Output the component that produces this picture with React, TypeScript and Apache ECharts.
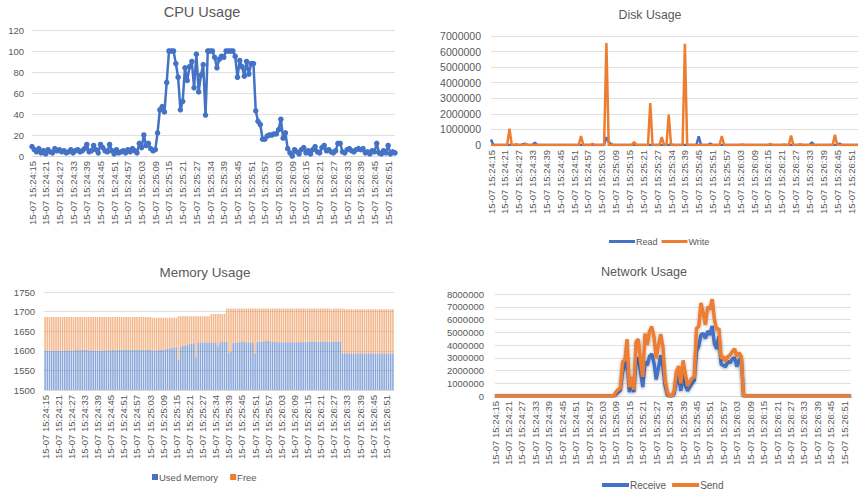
import React, { useEffect, useRef } from "react";
import * as echarts from "echarts";

const times: string[] = [
  "15:24:15", "15:24:16", "15:24:17", "15:24:18", "15:24:19", "15:24:20", "15:24:21", "15:24:22", "15:24:23", "15:24:24",
  "15:24:25", "15:24:26", "15:24:27", "15:24:28", "15:24:29", "15:24:30", "15:24:31", "15:24:32", "15:24:33", "15:24:34",
  "15:24:35", "15:24:36", "15:24:37", "15:24:38", "15:24:39", "15:24:40", "15:24:41", "15:24:42", "15:24:43", "15:24:44",
  "15:24:45", "15:24:46", "15:24:47", "15:24:48", "15:24:49", "15:24:50", "15:24:51", "15:24:52", "15:24:53", "15:24:54",
  "15:24:55", "15:24:56", "15:24:57", "15:24:58", "15:24:59", "15:25:00", "15:25:01", "15:25:02", "15:25:03", "15:25:04",
  "15:25:05", "15:25:06", "15:25:07", "15:25:08", "15:25:09", "15:25:10", "15:25:11", "15:25:12", "15:25:13", "15:25:14",
  "15:25:15", "15:25:16", "15:25:17", "15:25:18", "15:25:19", "15:25:20", "15:25:21", "15:25:22", "15:25:23", "15:25:24",
  "15:25:25", "15:25:26", "15:25:27", "15:25:28", "15:25:29", "15:25:30", "15:25:32", "15:25:33", "15:25:34", "15:25:35",
  "15:25:36", "15:25:36", "15:25:37", "15:25:38", "15:25:39", "15:25:40", "15:25:41", "15:25:42", "15:25:43", "15:25:44",
  "15:25:45", "15:25:46", "15:25:47", "15:25:48", "15:25:49", "15:25:50", "15:25:51", "15:25:52", "15:25:53", "15:25:54",
  "15:25:55", "15:25:56", "15:25:57", "15:25:58", "15:25:59", "15:26:00", "15:26:01", "15:26:02", "15:26:03", "15:26:04",
  "15:26:05", "15:26:06", "15:26:07", "15:26:08", "15:26:09", "15:26:10", "15:26:11", "15:26:12", "15:26:13", "15:26:14",
  "15:26:15", "15:26:16", "15:26:17", "15:26:18", "15:26:19", "15:26:20", "15:26:21", "15:26:22", "15:26:23", "15:26:24",
  "15:26:25", "15:26:26", "15:26:27", "15:26:28", "15:26:29", "15:26:30", "15:26:31", "15:26:32", "15:26:33", "15:26:34",
  "15:26:35", "15:26:36", "15:26:37", "15:26:38", "15:26:39", "15:26:40", "15:26:41", "15:26:42", "15:26:43", "15:26:44",
  "15:26:45", "15:26:46", "15:26:47", "15:26:48", "15:26:49", "15:26:50", "15:26:51", "15:26:52", "15:26:53", "15:26:54",
];
const categories = times.map((t) => `15-07 ${t}`);

const cpuUsage: number[] = [
  9, 6, 4, 7, 3, 5, 2, 6, 4, 3,
  7, 5, 6, 4, 5, 3, 4, 6, 3, 5,
  6, 4, 5, 7, 11, 4, 5, 10, 6, 3,
  11, 8, 5, 4, 11, 5, 2, 6, 3, 4,
  5, 3, 6, 4, 7, 5, 3, 12, 8, 20,
  10, 12, 7, 5, 6, 22, 44, 47, 42, 70,
  100, 100, 100, 88, 75, 44, 52, 84, 72, 85,
  90, 65, 97, 61, 77, 87, 39, 100, 100, 100,
  94, 84, 92, 95, 94, 100, 100, 100, 100, 95,
  75, 91, 85, 76, 90, 78, 88, 88, 43, 33,
  30, 16, 16, 19, 20, 20, 21, 21, 25, 35,
  17, 22, 7, 3, 0, 6, 4, 2, 6, 8,
  3, 5, 2, 6, 9, 4, 3, 8, 10, 5,
  6, 4, 3, 5, 12, 12, 4, 3, 6, 7,
  5, 4, 6, 7, 6, 7, 3, 4, 2, 5,
  4, 12, 3, 2, 5, 3, 10, 2, 4, 3,
];

const diskRead: number[] = [
  350000, 0, 0, 0, 0, 0, 0, 0, 0, 0,
  0, 0, 0, 0, 60000, 80000, 0, 0, 0, 150000,
  0, 0, 0, 0, 0, 0, 0, 0, 0, 0,
  0, 0, 0, 0, 0, 0, 0, 0, 0, 0,
  0, 0, 0, 0, 0, 0, 0, 0, 0, 0,
  500000, 200000, 50000, 0, 0, 0, 0, 0, 0, 0,
  0, 0, 0, 0, 0, 0, 0, 0, 0, 0,
  0, 0, 0, 0, 0, 0, 0, 0, 40000, 0,
  0, 0, 0, 0, 0, 0, 0, 0, 0, 0,
  550000, 0, 0, 0, 0, 100000, 0, 0, 0, 0,
  0, 0, 0, 0, 0, 0, 0, 0, 0, 0,
  0, 0, 0, 0, 0, 0, 0, 0, 0, 0,
  0, 0, 0, 0, 0, 0, 0, 0, 0, 0,
  0, 0, 0, 0, 0, 0, 0, 0, 0, 170000,
  0, 0, 0, 0, 0, 0, 0, 0, 0, 0,
  0, 100000, 0, 0, 0, 0, 0, 0, 0, 0,
];

const diskWrite: number[] = [
  0, 0, 0, 0, 0, 0, 0, 0, 1050000, 0,
  0, 50000, 0, 0, 0, 60000, 0, 0, 0, 0,
  0, 0, 0, 0, 0, 0, 0, 0, 0, 0,
  0, 0, 0, 0, 0, 0, 0, 0, 0, 580000,
  0, 0, 0, 0, 80000, 0, 0, 0, 0, 0,
  6550000, 0, 0, 0, 0, 0, 0, 0, 0, 0,
  0, 0, 200000, 0, 0, 0, 0, 0, 0, 2700000,
  0, 0, 0, 0, 500000, 0, 0, 1950000, 0, 0,
  0, 0, 0, 0, 6500000, 0, 0, 0, 0, 0,
  0, 0, 0, 0, 0, 0, 0, 0, 0, 0,
  580000, 0, 0, 0, 0, 0, 0, 0, 0, 30000,
  0, 0, 0, 0, 0, 0, 0, 0, 0, 0,
  0, 80000, 0, 0, 0, 0, 0, 40000, 0, 0,
  600000, 0, 0, 0, 50000, 0, 0, 0, 0, 0,
  0, 0, 0, 0, 0, 0, 0, 0, 0, 650000,
  0, 0, 0, 0, 0, 0, 0, 0, 0, 0,
];

const memUsed: number[] = [
  1601, 1600, 1600, 1601, 1600, 1600, 1600, 1601, 1600, 1600,
  1601, 1601, 1600, 1601, 1602, 1602, 1601, 1602, 1602, 1602,
  1601, 1601, 1600, 1600, 1600, 1600, 1600, 1601, 1601, 1602,
  1601, 1602, 1601, 1602, 1602, 1602, 1602, 1602, 1602, 1602,
  1602, 1602, 1602, 1602, 1602, 1602, 1602, 1602, 1602, 1601,
  1601, 1601, 1602, 1602, 1602, 1604, 1605, 1606, 1607, 1608,
  1609, 1577, 1610, 1612, 1613, 1615, 1617, 1618, 1619, 1583,
  1620, 1621, 1622, 1621, 1620, 1621, 1622, 1621, 1620, 1613,
  1621, 1623, 1624, 1624, 1595, 1597, 1619, 1620, 1621, 1622,
  1624, 1623, 1622, 1622, 1621, 1621, 1592, 1622, 1623, 1623,
  1624, 1625, 1625, 1624, 1623, 1623, 1622, 1622, 1622, 1622,
  1622, 1622, 1622, 1622, 1622, 1622, 1622, 1622, 1622, 1622,
  1623, 1623, 1623, 1623, 1623, 1623, 1623, 1623, 1623, 1623,
  1623, 1623, 1623, 1623, 1623, 1623, 1593, 1593, 1593, 1593,
  1593, 1593, 1593, 1593, 1593, 1593, 1593, 1593, 1593, 1593,
  1593, 1593, 1593, 1593, 1593, 1593, 1593, 1593, 1593, 1593,
];

const memFree: number[] = [
  85, 86, 86, 85, 86, 86, 86, 85, 86, 86,
  85, 85, 86, 85, 84, 84, 85, 84, 84, 84,
  85, 85, 86, 86, 86, 86, 86, 85, 85, 84,
  85, 84, 85, 84, 84, 84, 84, 84, 84, 84,
  84, 84, 84, 84, 84, 84, 84, 84, 84, 83,
  83, 83, 82, 82, 82, 80, 79, 78, 77, 76,
  75, 111, 78, 76, 75, 73, 71, 70, 69, 105,
  68, 67, 66, 67, 68, 67, 72, 73, 74, 81,
  73, 71, 70, 84, 113, 111, 89, 88, 87, 86,
  84, 85, 86, 86, 87, 87, 116, 86, 85, 85,
  84, 83, 83, 84, 85, 85, 86, 86, 86, 86,
  86, 86, 86, 86, 86, 86, 86, 86, 86, 86,
  85, 85, 85, 85, 85, 85, 85, 85, 85, 85,
  85, 83, 85, 85, 85, 85, 115, 113, 113, 113,
  113, 113, 113, 113, 113, 113, 113, 113, 113, 113,
  113, 113, 113, 113, 113, 113, 113, 113, 113, 113,
];

const netReceive: number[] = [
  0, 0, 0, 0, 0, 0, 0, 0, 0, 0,
  0, 0, 0, 0, 0, 0, 0, 0, 0, 0,
  0, 0, 0, 0, 0, 0, 0, 0, 0, 0,
  0, 0, 0, 0, 0, 0, 0, 0, 0, 0,
  0, 0, 0, 0, 0, 0, 0, 0, 0, 0,
  0, 0, 0, 0, 150000, 300000, 450000, 1900000, 2300000, 2900000,
  300000, 1100000, 300000, 2800000, 3000000, 1900000, 700000, 2700000, 2400000, 3100000,
  3300000, 2600000, 1300000, 2200000, 3200000, 2300000, 800000, 100000, 0, 0,
  200000, 1200000, 1600000, 400000, 1800000, 800000, 400000, 700000, 1000000, 1200000,
  3500000, 3900000, 4800000, 4900000, 4500000, 5100000, 4800000, 5500000, 4100000, 3700000,
  4700000, 2500000, 2400000, 2300000, 2700000, 2600000, 2900000, 3000000, 2300000, 2800000,
  3000000, 0, 0, 0, 0, 0, 0, 0, 0, 0,
  0, 0, 0, 0, 0, 0, 0, 0, 0, 0,
  0, 0, 0, 0, 0, 0, 0, 0, 0, 0,
  0, 0, 0, 0, 0, 0, 0, 0, 0, 0,
  0, 0, 0, 0, 0, 0, 0, 0, 0, 0,
];

const netSend: number[] = [
  0, 0, 0, 0, 0, 0, 0, 0, 0, 0,
  0, 0, 0, 0, 0, 0, 0, 0, 0, 0,
  0, 0, 0, 0, 0, 0, 0, 0, 0, 0,
  0, 0, 0, 0, 0, 0, 0, 0, 0, 0,
  0, 0, 0, 0, 0, 0, 0, 0, 0, 0,
  0, 0, 0, 0, 300000, 500000, 600000, 2700000, 2800000, 4450000,
  700000, 1500000, 500000, 4250000, 4450000, 2800000, 1500000, 4900000, 4000000, 5050000,
  5450000, 4650000, 2950000, 4000000, 4850000, 3850000, 1250000, 300000, 0, 0,
  400000, 1900000, 2350000, 1000000, 2800000, 1750000, 800000, 1100000, 1400000, 1500000,
  5300000, 5450000, 7300000, 6500000, 5600000, 7000000, 6800000, 7600000, 6000000, 5200000,
  5300000, 2950000, 3100000, 2700000, 3100000, 3200000, 3500000, 3700000, 3100000, 3400000,
  3100000, 0, 0, 0, 0, 0, 0, 0, 0, 0,
  0, 0, 0, 0, 0, 0, 0, 0, 0, 0,
  0, 0, 0, 0, 0, 0, 0, 0, 0, 0,
  0, 0, 0, 0, 0, 0, 0, 0, 0, 0,
  0, 0, 0, 0, 0, 0, 0, 0, 0, 0,
];

const BLUE = "#4472C4";
const ORANGE = "#ED7D31";
const TEXT = "#595959";
const GRIDLINE = "#e0e0e0";
const FONT = "'Liberation Sans', Arial, sans-serif";

function xAxis(gridIndex: number, boundaryGap: boolean) {
  return {
    type: "category",
    gridIndex,
    data: categories,
    boundaryGap,
    axisTick: { show: false },
    axisLine: { lineStyle: { color: "#d9d9d9" } },
    axisLabel: {
      interval: 5,
      rotate: 90,
      fontSize: 9.5,
      color: TEXT,
      margin: 5,
      fontFamily: FONT,
    },
  };
}

function yAxis(gridIndex: number, min: number, max: number, interval: number, fontSize: number, margin: number) {
  return {
    type: "value",
    gridIndex,
    min,
    max,
    interval,
    axisLine: { show: false },
    axisTick: { show: false },
    splitLine: { lineStyle: { color: GRIDLINE, width: 1 } },
    axisLabel: {
      fontSize,
      color: TEXT,
      margin,
      fontFamily: FONT,
      formatter: (v: number) => String(v),
    },
  };
}

function title(text: string, x: number, y: number, fontSize: number) {
  return {
    type: "text",
    x,
    y,
    style: {
      text,
      fontSize,
      fontFamily: FONT,
      fill: TEXT,
      align: "center",
      verticalAlign: "middle",
    },
  };
}

export default function App() {
  const ref = useRef<HTMLDivElement>(null);
  useEffect(() => {
    if (!ref.current) return;
    const chart = echarts.init(ref.current, undefined, { renderer: "svg" });
    chart.setOption({
      animation: false,
      backgroundColor: "#ffffff",
      textStyle: { fontFamily: FONT },
      graphic: [
        title("CPU Usage", 202, 12, 14.5),
        title("Disk Usage", 650, 15, 12.3),
        title("Memory Usage", 205, 272, 13.4),
        title("Network Usage", 644, 272, 12.6),
      ],
      grid: [
        { left: 32, top: 30, width: 363, height: 126 },
        { left: 491, top: 36, width: 369, height: 109 },
        { left: 44, top: 292, width: 350, height: 98 },
        { left: 495, top: 294, width: 356, height: 102 },
      ],
      xAxis: [xAxis(0, false), xAxis(1, false), xAxis(2, true), xAxis(3, false)],
      yAxis: [
        yAxis(0, 0, 120, 20, 9.5, 8),
        yAxis(1, 0, 7000000, 1000000, 10.5, 10),
        yAxis(2, 1500, 1750, 50, 9.5, 9),
        yAxis(3, 0, 8000000, 1000000, 9.5, 11),
      ],
      legend: [
        {
          data: [
            { name: "Read", icon: "rect" },
            { name: "Write", icon: "rect" },
          ],
          left: 604,
          top: 232,
          itemWidth: 26,
          itemHeight: 3,
          itemGap: 4,
          textStyle: { fontSize: 9, color: TEXT, padding: [0, 0, 0, -4] },
        },
        {
          data: [
            { name: "Used Memory", icon: "rect", itemStyle: { color: BLUE } },
            { name: "Free", icon: "rect", itemStyle: { color: ORANGE } },
          ],
          left: 147,
          top: 467,
          itemWidth: 6,
          itemHeight: 6,
          itemGap: 12,
          textStyle: { fontSize: 9.5, color: TEXT, padding: [0, 0, 0, -4] },
        },
        {
          data: [
            { name: "Receive", icon: "rect" },
            { name: "Send", icon: "rect" },
          ],
          left: 597,
          top: 475,
          itemWidth: 27,
          itemHeight: 4,
          itemGap: 6,
          textStyle: { fontSize: 10, color: TEXT, padding: [0, 0, 0, -4] },
        },
      ],
      series: [
        {
          name: "CPU",
          type: "line",
          xAxisIndex: 0,
          yAxisIndex: 0,
          data: cpuUsage,
          symbol: "circle",
          symbolSize: 5.5,
          showAllSymbol: true,
          lineStyle: { width: 2.5, color: BLUE },
          itemStyle: { color: BLUE },
        },
        {
          name: "Read",
          type: "line",
          xAxisIndex: 1,
          yAxisIndex: 1,
          data: diskRead,
          showSymbol: false,
          lineStyle: { width: 2.5, color: BLUE },
          itemStyle: { color: BLUE },
        },
        {
          name: "Write",
          type: "line",
          xAxisIndex: 1,
          yAxisIndex: 1,
          data: diskWrite,
          showSymbol: false,
          lineStyle: { width: 2.5, color: ORANGE },
          itemStyle: { color: ORANGE },
        },
        {
          name: "Used Memory",
          type: "bar",
          stack: "mem",
          xAxisIndex: 2,
          yAxisIndex: 2,
          data: memUsed,
          barCategoryGap: "30%",
          itemStyle: { color: "rgba(68,114,196,0.62)" },
        },
        {
          name: "Free",
          type: "bar",
          stack: "mem",
          xAxisIndex: 2,
          yAxisIndex: 2,
          data: memFree,
          barCategoryGap: "30%",
          itemStyle: { color: "rgba(237,125,49,0.55)" },
        },
        {
          name: "Receive",
          type: "line",
          xAxisIndex: 3,
          yAxisIndex: 3,
          data: netReceive,
          showSymbol: false,
          lineStyle: {
            width: 3.5,
            color: BLUE,
            shadowColor: "rgba(0,0,0,0.3)",
            shadowBlur: 3,
            shadowOffsetY: 1,
          },
          itemStyle: { color: BLUE },
        },
        {
          name: "Send",
          type: "line",
          xAxisIndex: 3,
          yAxisIndex: 3,
          data: netSend,
          showSymbol: false,
          lineStyle: {
            width: 3.5,
            color: ORANGE,
            shadowColor: "rgba(0,0,0,0.3)",
            shadowBlur: 3,
            shadowOffsetY: 1,
          },
          itemStyle: { color: ORANGE },
        },
      ],
    });
    return () => chart.dispose();
  }, []);
  return (
    <div
      ref={ref}
      style={{ position: "absolute", left: 0, top: 0, width: 858, height: 489 }}
    />
  );
}
